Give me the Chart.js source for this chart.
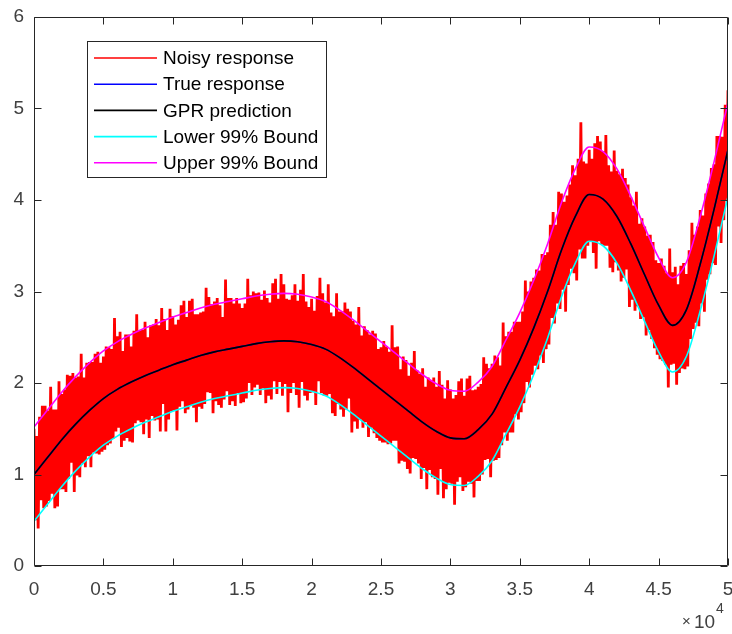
<!DOCTYPE html>
<html>
<head>
<meta charset="utf-8">
<title>GPR prediction</title>
<script src="https://cdn.jsdelivr.net/npm/chart.js@4.4.1/dist/chart.umd.min.js"></script>
<style>
  html, body { margin: 0; padding: 0; background: #fff; }
  #wrap { width: 732px; height: 634px; }
</style>
</head>
<body>
<div id="wrap"><canvas id="gpr" width="732" height="634"></canvas></div>
<script>
// x is in raw units (0..5e4), the axis shows it in units of 1e4
const smoothStep = 1000;
const noisyStep = 100;

const gprPrediction = [1.00,1.19,1.38,1.55,1.70,1.83,1.93,2.01,2.08,2.14,2.20,2.25,2.30,2.34,2.37,2.40,2.43,2.45,2.46,2.45,
  2.42,2.37,2.28,2.17,2.05,1.93,1.81,1.69,1.57,1.47,1.40,1.39,1.49,1.66,1.95,2.25,2.60,3.00,3.45,3.82,
  4.06,4.01,3.82,3.52,3.18,2.85,2.63,2.80,3.30,3.90,4.55];
const trueResponse = [1.00,1.19,1.38,1.55,1.70,1.83,1.93,2.01,2.08,2.14,2.20,2.25,2.30,2.34,2.37,2.40,2.43,2.45,2.46,2.45,
  2.42,2.37,2.28,2.17,2.05,1.93,1.81,1.69,1.57,1.47,1.40,1.39,1.49,1.66,1.95,2.25,2.60,3.00,3.45,3.82,
  4.06,4.01,3.82,3.52,3.18,2.85,2.63,2.80,3.30,3.90,4.55];
const lowerBound = [0.49,0.68,0.87,1.04,1.19,1.32,1.42,1.50,1.57,1.63,1.69,1.74,1.79,1.83,1.86,1.89,1.92,1.94,1.95,1.94,
  1.91,1.86,1.77,1.66,1.54,1.42,1.30,1.18,1.06,0.96,0.89,0.88,0.98,1.15,1.44,1.74,2.09,2.49,2.94,3.31,
  3.55,3.50,3.31,3.01,2.67,2.34,2.12,2.29,2.79,3.39,4.04];
const upperBound = [1.52,1.71,1.90,2.07,2.22,2.35,2.45,2.53,2.60,2.66,2.72,2.77,2.82,2.86,2.89,2.92,2.95,2.97,2.98,2.97,
  2.94,2.89,2.80,2.69,2.57,2.45,2.33,2.21,2.09,1.99,1.92,1.91,2.01,2.18,2.47,2.77,3.12,3.52,3.97,4.34,
  4.58,4.53,4.34,4.04,3.70,3.37,3.15,3.32,3.82,4.42,5.07];

const noisyResponse = [
  1.50,0.50,1.42,0.41,1.63,0.72,1.75,0.63,1.75,0.65,
  1.70,0.71,1.96,0.79,1.71,0.63,1.71,0.65,2.02,0.84,
  1.88,0.84,1.93,0.81,2.09,0.95,2.08,1.13,2.11,0.81,
  2.06,0.99,2.07,0.97,2.32,1.12,2.06,1.08,2.22,1.20,
  2.23,1.08,2.23,1.24,2.32,1.23,2.34,1.22,2.22,1.25,
  2.29,1.27,2.40,1.32,2.39,1.34,2.37,1.39,2.71,1.47,
  2.51,1.51,2.56,1.30,2.35,1.37,2.53,1.40,2.53,1.36,
  2.40,1.35,2.57,1.56,2.75,1.59,2.57,1.57,2.58,1.44,
  2.67,1.60,2.50,1.40,2.63,1.64,2.64,1.59,2.70,1.60,
  2.63,1.47,2.82,1.77,2.70,1.47,2.58,1.60,2.81,1.69,
  2.73,1.70,2.64,1.48,2.69,1.74,2.85,1.80,2.90,1.67,
  2.72,1.71,2.90,1.76,2.92,1.73,2.75,1.57,2.75,1.74,
  2.77,1.72,2.78,1.77,3.04,1.90,2.94,1.89,2.86,1.67,
  2.89,1.80,2.93,1.76,2.85,1.73,2.72,1.82,3.13,1.91,
  2.93,1.76,2.93,1.80,2.87,1.75,2.93,1.89,2.87,1.78,
  2.82,1.79,2.87,1.83,3.14,2.00,2.96,1.87,3.00,1.95,
  2.98,1.98,2.99,1.87,2.91,1.94,3.01,1.78,2.93,1.86,
  2.88,1.82,3.09,2.02,3.14,1.88,2.92,2.01,3.19,1.86,
  3.08,1.99,2.92,1.68,2.91,1.89,2.96,2.00,3.08,1.87,
  2.90,1.73,3.02,2.01,3.19,1.86,2.89,1.81,2.83,1.89,
  2.92,1.90,2.79,1.76,2.95,2.02,3.15,1.89,2.98,1.86,
  2.88,1.86,3.08,1.88,2.77,1.67,2.73,1.64,2.98,1.77,
  2.78,1.71,2.78,1.63,2.88,1.71,2.81,1.83,2.78,1.46,
  2.68,1.58,2.64,1.50,2.83,1.60,2.52,1.51,2.62,1.57,
  2.58,1.41,2.53,1.51,2.57,1.45,2.54,1.40,2.37,1.37,
  2.39,1.35,2.46,1.35,2.40,1.33,2.34,1.34,2.63,1.37,
  2.39,1.37,2.40,1.12,2.15,1.15,2.29,1.14,2.25,1.06,
  2.08,1.01,2.22,1.18,2.35,1.17,2.14,1.12,2.10,0.95,
  2.16,1.07,1.96,0.84,2.06,1.05,2.03,0.97,2.06,0.95,
  1.96,0.78,2.13,1.06,1.98,0.74,1.83,0.84,2.03,0.91,
  1.93,0.90,1.83,0.67,1.87,0.92,2.02,0.97,2.05,0.82,
  1.86,0.86,2.05,0.92,2.08,0.90,1.92,0.75,1.93,0.93,
  1.96,0.93,1.99,1.00,2.28,1.16,2.21,1.17,2.16,0.97,
  2.21,1.15,2.30,1.16,2.28,1.18,2.19,1.32,2.66,1.46,
  2.51,1.37,2.56,1.46,2.56,1.46,2.67,1.66,2.67,1.60,
  2.67,1.68,2.78,1.78,3.12,2.01,3.00,1.95,3.11,2.09,
  3.15,2.19,3.24,2.15,3.23,2.30,3.41,2.22,3.40,2.37,
  3.43,2.42,3.73,2.71,3.87,2.65,3.73,2.87,4.09,2.81,
  4.07,3.02,3.98,2.78,4.05,3.07,4.17,3.25,4.38,3.20,
  4.27,3.12,4.45,3.46,4.85,3.36,4.42,3.36,4.40,3.50,
  4.55,3.54,4.45,3.42,4.62,3.25,4.70,3.55,4.64,3.51,
  4.53,3.50,4.71,3.50,4.38,3.26,4.31,3.21,4.54,3.32,
  4.32,3.23,4.28,3.11,4.34,3.15,4.24,3.24,4.17,2.83,
  4.03,2.91,3.94,2.79,4.09,2.84,3.74,2.70,3.80,2.72,
  3.71,2.52,3.61,2.58,3.62,2.48,3.54,2.38,3.34,2.31,
  3.31,2.26,3.36,2.24,3.28,2.20,3.20,1.95,3.47,2.20,
  3.21,2.21,3.27,1.98,3.08,2.11,3.28,2.16,3.31,2.15,
  3.19,2.18,3.45,2.48,3.75,2.59,3.62,2.66,3.71,2.62,
  3.89,2.87,3.83,2.78,4.07,3.13,4.18,3.19,4.35,3.31,
  4.39,3.29,4.70,3.71,4.70,3.53,4.69,3.78,5.04,3.99,
  5.20
];

const xTickValues = [0, 5000, 10000, 15000, 20000, 25000, 30000, 35000, 40000, 45000, 50000];
const xTickLabels = ['0', '0.5', '1', '1.5', '2', '2.5', '3', '3.5', '4', '4.5', '5'];
const yTickValues = [0, 1, 2, 3, 4, 5, 6];
const yTickLabels = ['0', '1', '2', '3', '4', '5', '6'];

const fontFamily = "'Liberation Sans', Arial, Helvetica, sans-serif";
const axisColor = '#262626';

const toPoints = (ys, step) => ys.map((y, i) => ({ x: i * step, y }));

const smoothLine = (label, values, color, order) => ({
  label,
  data: toPoints(values, smoothStep),
  borderColor: color,
  backgroundColor: color,
  borderWidth: 1.6,
  pointRadius: 0,
  cubicInterpolationMode: 'monotone',
  order
});

// MATLAB style box, inward ticks, exponent and legend
const matlabFrame = {
  id: 'matlabFrame',
  afterDraw(chart) {
    const { ctx, chartArea: a, scales: { x, y } } = chart;
    const L = Math.round(a.left) + 0.5, R = Math.round(a.right) - 0.5;
    const T = Math.round(a.top) + 0.5, B = Math.round(a.bottom) - 0.5;
    const tick = 7;

    ctx.save();
    ctx.strokeStyle = axisColor;
    ctx.lineWidth = 1;
    ctx.beginPath();
    ctx.rect(L, T, R - L, B - T);
    xTickValues.forEach(v => {
      const px = Math.round(x.getPixelForValue(v)) + 0.5;
      ctx.moveTo(px, B); ctx.lineTo(px, B - tick);
      ctx.moveTo(px, T); ctx.lineTo(px, T + tick);
    });
    yTickValues.forEach(v => {
      const py = Math.round(y.getPixelForValue(v)) + 0.5;
      ctx.moveTo(L, py); ctx.lineTo(L + tick, py);
      ctx.moveTo(R, py); ctx.lineTo(R - tick, py);
    });
    ctx.stroke();

    // x10^4 exponent label
    ctx.fillStyle = '#404040';
    ctx.textBaseline = 'alphabetic';
    ctx.textAlign = 'left';
    ctx.font = '15px ' + fontFamily;
    ctx.fillText('\u00d7', 682, 626);
    ctx.font = '19px ' + fontFamily;
    ctx.fillText('10', 694, 628);
    ctx.font = '14px ' + fontFamily;
    ctx.fillText('4', 716, 613);

    // legend box
    const box = { left: 87.5, top: 41.5, width: 239, height: 136 };
    ctx.fillStyle = '#fff';
    ctx.fillRect(box.left, box.top, box.width, box.height);
    ctx.strokeStyle = axisColor;
    ctx.strokeRect(box.left, box.top, box.width, box.height);
    ctx.font = '19px ' + fontFamily;
    ctx.textBaseline = 'middle';
    chart.data.datasets.forEach((ds, i) => {
      const rowY = 58 + i * 26.2;
      ctx.strokeStyle = ds.borderColor;
      ctx.lineWidth = 1.6;
      ctx.beginPath();
      ctx.moveTo(94, rowY);
      ctx.lineTo(157, rowY);
      ctx.stroke();
      ctx.fillStyle = '#000';
      ctx.fillText(ds.label, 163, rowY + 1);
    });
    ctx.restore();
  }
};

new Chart(document.getElementById('gpr'), {
  type: 'line',
  data: {
    datasets: [
      {
        label: 'Noisy response',
        data: toPoints(noisyResponse, noisyStep),
        borderColor: '#ff0000',
        backgroundColor: '#ff0000',
        borderWidth: 2.8,
        borderJoinStyle: 'bevel',
        pointRadius: 0,
        tension: 0,
        order: 5
      },
      smoothLine('True response', trueResponse, '#0000ff', 2),
      smoothLine('GPR prediction', gprPrediction, '#000000', 1),
      smoothLine('Lower 99% Bound', lowerBound, '#00ffff', 3),
      smoothLine('Upper 99% Bound', upperBound, '#ff00ff', 4)
    ]
  },
  options: {
    responsive: false,
    animation: false,
    devicePixelRatio: 1,
    layout: { padding: { top: 17, right: 4, left: 0, bottom: 0 } },
    plugins: {
      legend: { display: false },
      tooltip: { enabled: false }
    },
    scales: {
      x: {
        type: 'linear',
        min: 0,
        max: 50000,
        grid: { display: false, drawTicks: false },
        border: { display: false },
        afterBuildTicks: s => { s.ticks = xTickValues.map(v => ({ value: v })); },
        afterFit: s => { s.height = 68; s.paddingLeft = 0; s.paddingRight = 0; },
        ticks: {
          autoSkip: false,
          maxRotation: 0,
          padding: 12,
          color: '#404040',
          font: { family: fontFamily, size: 19 },
          callback: (v, i) => xTickLabels[i]
        }
      },
      y: {
        min: 0,
        max: 6,
        grid: { display: false, drawTicks: false },
        border: { display: false },
        afterBuildTicks: s => { s.ticks = yTickValues.map(v => ({ value: v })); },
        afterFit: s => { s.width = 34; s.paddingTop = 0; s.paddingBottom = 0; },
        ticks: {
          padding: 10,
          color: '#404040',
          font: { family: fontFamily, size: 19 },
          callback: (v, i) => yTickLabels[i]
        }
      }
    }
  },
  plugins: [matlabFrame]
});
</script>
</body>
</html>
